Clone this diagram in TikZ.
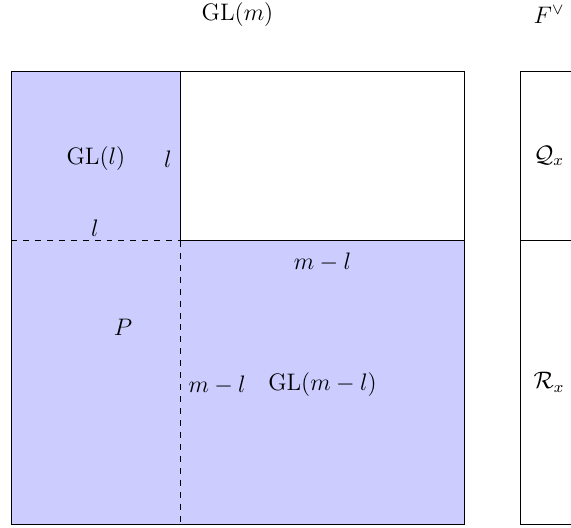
\documentclass[tikz,border=0pt]{standalone}
\usepackage{amsmath}
\begin{document}
\begin{tikzpicture}[x=1cm,y=1cm,
  blockfill/.style={fill=blue!20},
  lbl/.style={inner sep=0pt,font=\fontsize{12}{14.4}\selectfont}]
\useasboundingbox (-0.194,-0.053) rectangle (9.889,9.254);
\clip (-0.194,-0.053) rectangle (9.889,9.254);
% fills
\fill[blockfill] (0,5) rectangle (3,8);
\fill[blockfill] (0,0) rectangle (8,5);
% outlines
\draw (0,0) rectangle (8,8);
\draw (3,8) -- (3,5) -- (8,5);
\draw[dashed] (0,5) -- (3,5);
\draw[dashed] (3,5) -- (3,0);
% right column
\draw (9,0) rectangle (10,8);
\draw (9,5) -- (10,5);
% labels
\node[lbl] (glm) at (4,9) {$\mathrm{GL}(m)$};
\node[lbl] (fv) at (9.5,9) {$F^\vee$};
\node[lbl] (gll) at (1.5,6.45) {$\mathrm{GL}(l)$};
\node[lbl] (l1) at (2.77,6.45) {$l$};
\node[lbl] (l2) at (1.48,5.23) {$l$};
\node[lbl] (ml1) at (5.5,4.63) {$m-l$};
\node[lbl] (p) at (1.98,3.48) {$P$};
\node[lbl] (ml2) at (3.64,2.46) {$m-l$};
\node[lbl] (glml) at (5.5,2.46) {$\mathrm{GL}(m-l)$};
\node[lbl] (qx) at (9.5,6.5) {$\mathcal{Q}_x$};
\node[lbl] (rx) at (9.5,2.5) {$\mathcal{R}_x$};
\end{tikzpicture}
\end{document}
